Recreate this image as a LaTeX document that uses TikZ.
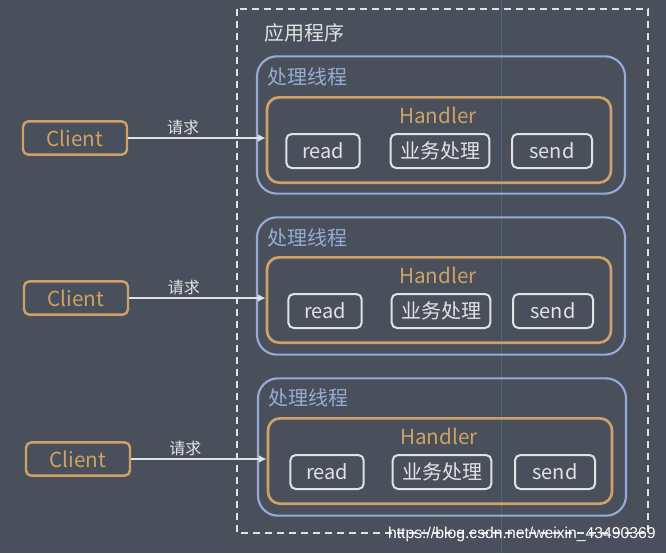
\documentclass[tikz,border=0pt]{standalone}
\usepackage{fontspec}
\setmainfont{Noto Sans CJK SC}
\newfontfamily\urlfont{Liberation Sans}
\definecolor{BgGray}{RGB}{74, 79, 92}
\definecolor{HOrange}{RGB}{206, 162, 102}
\definecolor{ThreadBlue}{RGB}{150, 172, 212}
\definecolor{BoxWhite}{RGB}{226, 226, 226}
\definecolor{GuideBlue}{RGB}{72, 104, 146}
\usetikzlibrary{arrows.meta, positioning}

\begin{document}
\begin{tikzpicture}[
          x=0.75pt, y=-0.75pt,
          client/.style={
            rounded corners=4pt,
            draw=HOrange,
            line width=1.8pt,
            text=HOrange,
            font=\fontsize{15.5}{17}\selectfont,
            inner sep=0pt,
            minimum width=78pt,
            minimum height=25pt
          },
          thread/.style={
            rounded corners=15pt,
            draw=ThreadBlue,
            line width=1.6pt,
            inner sep=0pt,
            minimum width=276pt,
            minimum height=103pt
          },
          handler/.style={
            rounded corners=9pt,
            draw=HOrange,
            line width=2pt,
            inner sep=0pt,
            minimum width=258pt,
            minimum height=64pt
          },
          btn/.style={
            rounded corners=4pt,
            draw=BoxWhite,
            line width=1.5pt,
            text=BoxWhite,
            font=\fontsize{15}{17}\selectfont,
            inner sep=0pt,
            minimum height=25.5pt
          },
          title/.style={anchor=west, font=\fontsize{15}{17}\selectfont, inner sep=0pt},
          hname/.style={text=HOrange, font=\fontsize{15.5}{17}\selectfont, inner sep=0pt},
          arrow/.style={-{Latex[length=2mm, width=2mm]}, line width=1.5pt, BoxWhite},
          reqlabel/.style={above, text=BoxWhite, font=\fontsize{12}{14}\selectfont, inner sep=2pt}
        ]
        \fill[BgGray] (0,0) rectangle (666,553);
        \useasboundingbox (0,0) rectangle (666,553);
        \draw[GuideBlue, line width=0.6pt] (501,0) -- (501,553);
        % application frame
        \draw[BoxWhite, line width=1.5pt, dash pattern=on 5.5pt off 3.5pt] (237,9) rectangle (648,533);
        \node[title, text=BoxWhite] (app) at (264,33) {应用程序};

        % first thread
        \node[thread] (thr1) at (441,125) {};
        \node[title, text=ThreadBlue] (thrname1) at (267,77) {处理线程};
        \node[handler] (hdl1) at (439,140) {};
        \node[hname] (hname1) at (438,115) {Handler};
        \node[btn, minimum width=55pt] (read1) at (323,151) {read};
        \node[btn, minimum width=74pt] (work1) at (440,151) {业务处理};
        \node[btn, minimum width=60pt] (send1) at (552,151) {send};
        \node[client] (client1) at (75,138) {Client};
        \draw[arrow] (client1.east) -- node[reqlabel, pos=0.4] {请求} (client1.east -| hdl1.west);

        % second thread
        \node[thread] (thr2) at (441,286) {};
        \node[title, text=ThreadBlue] (thrname2) at (267,238) {处理线程};
        \node[handler] (hdl2) at (439,300) {};
        \node[hname] (hname2) at (438,275) {Handler};
        \node[btn, minimum width=55pt] (read2) at (325,311) {read};
        \node[btn, minimum width=74pt] (work2) at (441,311) {业务处理};
        \node[btn, minimum width=60pt] (send2) at (553,311) {send};
        \node[client] (client2) at (76,298) {Client};
        \draw[arrow] (client2.east) -- node[reqlabel, pos=0.4] {请求} (client2.east -| hdl2.west);

        % third thread
        \node[thread] (thr3) at (442,447) {};
        \node[title, text=ThreadBlue] (thrname3) at (268,398) {处理线程};
        \node[handler] (hdl3) at (440,461) {};
        \node[hname] (hname3) at (439,436) {Handler};
        \node[btn, minimum width=55pt] (read3) at (327,472) {read};
        \node[btn, minimum width=74pt] (work3) at (442,472) {业务处理};
        \node[btn, minimum width=60pt] (send3) at (555,472) {send};
        \node[client] (client3) at (78,459) {Client};
        \draw[arrow] (client3.east) -- node[reqlabel, pos=0.4] {请求} (client3.east -| hdl3.west);

        \node[anchor=east, text=white, font=\urlfont\fontsize{11.8}{13}\selectfont, inner sep=0pt] (mark) at (656,534) {https://blog.csdn.net/weixin\_43490369};
      \end{tikzpicture}
\end{document}
